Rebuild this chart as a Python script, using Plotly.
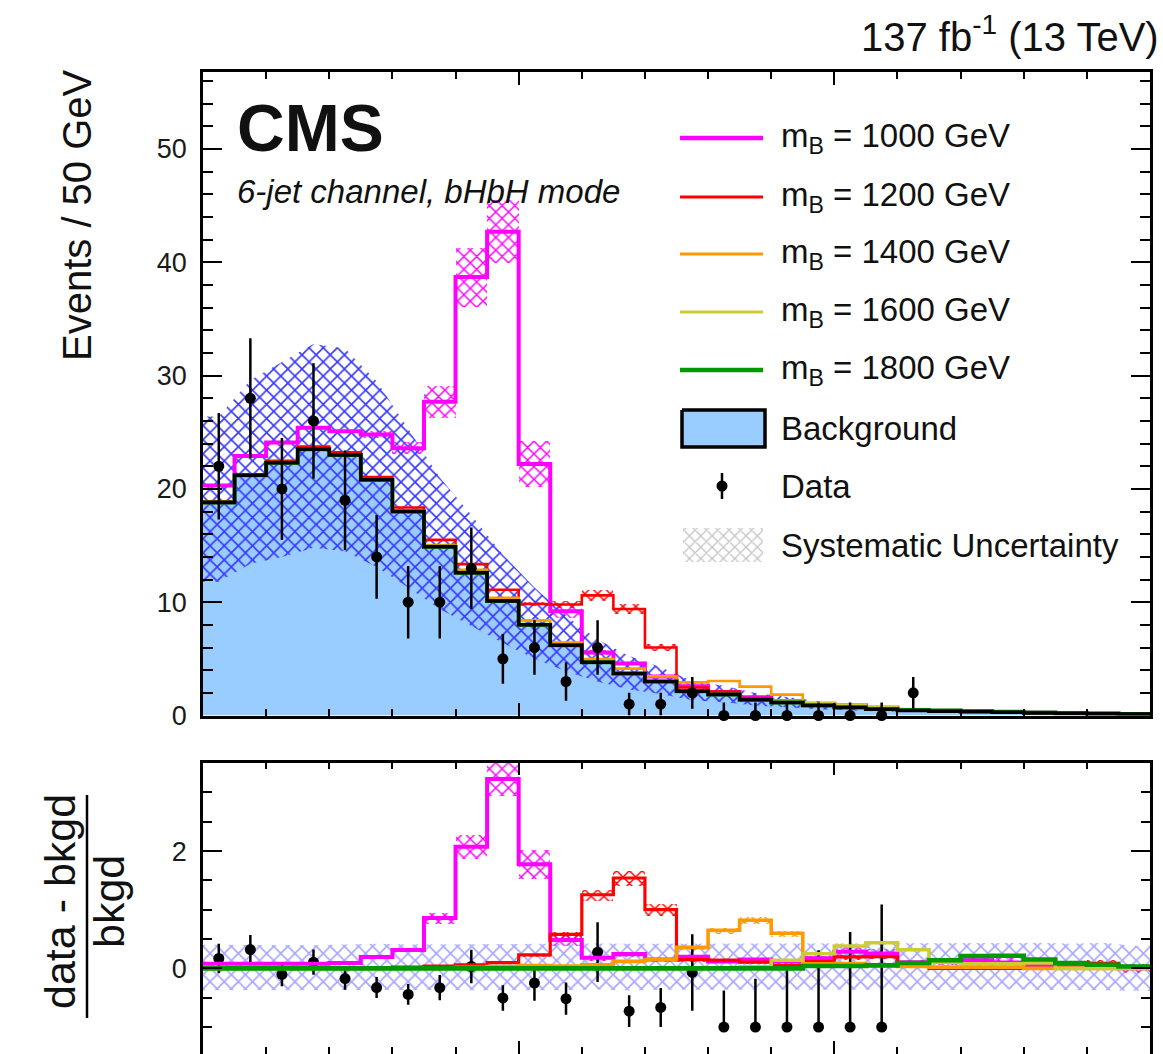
import plotly.graph_objects as go

# ---------------- data ----------------
bin_edges = list(range(500, 2001, 50))          # GeV, 30 bins of 50 GeV
bin_centers = [e + 25 for e in bin_edges[:-1]]

bkg = [18.8, 21.2, 22.3, 23.5, 23.0, 20.8, 18.0, 14.9, 12.6, 10.1,
       8.0, 6.2, 4.7, 3.7, 3.0, 2.15, 1.85, 1.4, 1.15, 0.88,
       0.71, 0.55, 0.44, 0.38, 0.33, 0.28, 0.23, 0.19, 0.16, 0.13]
bkg_hi = [26.4, 29.6, 31.2, 32.8, 32.4, 29.5, 25.3, 21.0, 17.7, 14.2,
          11.3, 8.8, 6.7, 5.25, 4.26, 3.05, 2.63, 1.99, 1.63, 1.25,
          1.01, 0.78, 0.63, 0.54, 0.47, 0.40, 0.33, 0.27, 0.23, 0.18]
bkg_lo = [11.8, 13.4, 14.0, 14.8, 14.5, 13.1, 11.3, 9.4, 7.9, 6.4,
          5.0, 3.9, 3.0, 2.3, 1.9, 1.35, 1.17, 0.88, 0.72, 0.55,
          0.45, 0.35, 0.28, 0.24, 0.21, 0.18, 0.145, 0.12, 0.10, 0.08]

data = [22, 28, 20, 26, 19, 14, 10, 10, 13, 5,
        6, 3, 6, 1, 1, 2, 0, 0, 0, 0,
        0, 0, 2, None, None, None, None, None, None, None]
data_err_hi = [4.7, 5.3, 4.5, 5.1, 4.4, 3.7, 3.2, 3.2, 3.6, 2.2,
               2.4, 1.7, 2.4, 1.0, 1.0, 1.4, 1.15, 1.15, 1.15, 1.15,
               1.15, 1.15, 1.4, None, None, None, None, None, None, None]
data_err_lo = [4.7, 5.3, 4.5, 5.1, 4.4, 3.7, 3.2, 3.2, 3.6, 2.2,
               2.4, 1.7, 2.4, 1.0, 1.0, 1.4, 0, 0, 0, 0,
               0, 0, 1.4, None, None, None, None, None, None, None]

sig_1000 = [1.5, 1.7, 1.8, 1.9, 2.1, 4.0, 5.6, 12.8, 26.1, 32.6,
            14.2, 3.0, 0.85, 0.9, 0.45, 0.43, 0.22, 0.21, 0.14, 0.15,
            0.2, 0.14, 0.045, 0.045, 0.046, 0.028, 0.012, 0.01, 0.006, 0.0]
unc_1000 = [0.1, 0.1, 0.1, 0.1, 0.1, 0.3, 0.5, 1.4, 2.6, 2.8,
            2.0, 0.6, 0.2, 0.15, 0.1, 0.08, 0.05, 0.05, 0.04, 0.04,
            0.06, 0.05, 0.02, 0.02, 0.03, 0.03, 0.01, 0.01, 0.01, 0.01]
sig_1200 = [0.1, 0.1, 0.18, 0.24, 0.23, 0.25, 0.36, 0.6, 0.76, 1.0,
            1.84, 3.6, 5.9, 5.7, 3.0, 0.32, 0.26, 0.15, 0.06, 0.1,
            0.14, 0.11, 0.014, 0, 0, 0, 0, 0, 0.014, 0]
unc_1200 = [0, 0, 0, 0, 0, 0, 0, 0.05, 0.08, 0.1,
            0.2, 0.35, 0.45, 0.45, 0.3, 0.05, 0.05, 0.03, 0.02, 0.02,
            0.03, 0.02, 0, 0, 0, 0, 0, 0, 0.01, 0]
sig_1400 = [0, 0, 0, 0, 0, 0, 0.09, 0.15, 0.25, 0.3,
            0.4, 0.25, 0.28, 0.44, 0.45, 0.77, 1.2, 1.15, 0.69, 0.07,
            0.057, 0.028, 0.014, 0.008, 0.007, 0.006, 0, 0, 0, 0]
unc_1400 = [0, 0, 0, 0, 0, 0, 0, 0, 0, 0,
            0, 0, 0, 0.03, 0.04, 0.07, 0.09, 0.09, 0.06, 0,
            0, 0, 0, 0, 0, 0, 0, 0, 0, 0]
sig_1600 = [0, 0, 0, 0, 0, 0, 0, 0, 0, 0,
            0, 0, 0, 0, 0, 0, 0.02, 0.04, 0.16, 0.22,
            0.27, 0.24, 0.14, 0.038, 0.026, 0.022, 0.021, 0, 0, 0]
sig_1800 = [0, 0, 0, 0, 0, 0, 0, 0, 0, 0,
            0, 0, 0, 0, 0, 0, 0, 0, 0, 0.035,
            0.028, 0.028, 0.04, 0.053, 0.07, 0.06, 0.035, 0.017, 0.01, 0.004]

signals = [
    ("m<sub>B</sub> = 1000 GeV", sig_1000, unc_1000, "#ff00ff", 4.0, 4.0),
    ("m<sub>B</sub> = 1200 GeV", sig_1200, unc_1200, "#ff0000", 2.6, 3.2),
    ("m<sub>B</sub> = 1400 GeV", sig_1400, unc_1400, "#ff9900", 2.6, 3.6),
    ("m<sub>B</sub> = 1600 GeV", sig_1600, None, "#cccc33", 2.4, 3.6),
    ("m<sub>B</sub> = 1800 GeV", sig_1800, None, "#009900", 4.0, 4.6),
]

RATIO_MIN, RATIO_MAX = -1.46, 3.51
FONT = "Liberation Sans, Arial, Helvetica, sans-serif"
LIGHTBLUE = "#99ccff"

# ---------------- helpers ----------------
def step_y(vals):
    return list(vals) + [vals[-1]]

def band_xy(hi, lo):
    xs = [bin_edges[0]] + bin_centers + [bin_edges[-1]]
    up = [hi[0]] + list(hi) + [hi[-1]]
    dn = [lo[0]] + list(lo) + [lo[-1]]
    return xs + xs[::-1], up + dn[::-1]

fig = go.Figure()

# ---------------- top panel ----------------
fig.add_trace(go.Scatter(x=bin_edges, y=step_y(bkg), mode="lines",
                         line=dict(width=0, shape="hv"), fill="tozeroy",
                         fillcolor=LIGHTBLUE, xaxis="x", yaxis="y", hoverinfo="skip"))
bx, by = band_xy(bkg_hi, bkg_lo)
fig.add_trace(go.Scatter(x=bx, y=by, mode="lines", line=dict(width=0),
                         fill="toself", fillcolor="rgba(0,0,0,0)",
                         fillpattern=dict(shape="x", fgcolor="rgb(55,55,255)",
                                          bgcolor="rgba(0,0,0,0)", size=10, solidity=0.3),
                         xaxis="x", yaxis="y", hoverinfo="skip"))

for name, sig, unc, col, lw, lw2 in signals:
    tot = [b + s for b, s in zip(bkg, sig)]
    if unc is not None:
        fig.add_trace(go.Bar(x=bin_centers, y=[2 * u for u in unc],
                             base=[t - u for t, u in zip(tot, unc)], width=50,
                             marker=dict(color="rgba(0,0,0,0)", line=dict(width=0),
                                         pattern=dict(shape="x", fgcolor=col,
                                                      bgcolor="rgba(0,0,0,0)",
                                                      size=9, solidity=0.3)),
                             xaxis="x", yaxis="y", hoverinfo="skip"))
for name, sig, unc, col, lw, lw2 in signals:
    tot = [b + s for b, s in zip(bkg, sig)]
    fig.add_trace(go.Scatter(x=bin_edges, y=step_y(tot), mode="lines",
                             line=dict(color=col, width=lw, shape="hv"),
                             xaxis="x", yaxis="y", hoverinfo="skip"))

fig.add_trace(go.Scatter(x=bin_edges, y=step_y(bkg), mode="lines",
                         line=dict(color="black", width=3.5, shape="hv"),
                         xaxis="x", yaxis="y", hoverinfo="skip"))

fig.add_trace(go.Scatter(x=bin_centers, y=data, mode="markers",
                         marker=dict(color="black", size=11),
                         error_y=dict(type="data", symmetric=False, array=data_err_hi,
                                      arrayminus=data_err_lo, color="black",
                                      thickness=2.5, width=0),
                         cliponaxis=False, xaxis="x", yaxis="y", hoverinfo="skip"))

# ---------------- ratio panel ----------------
r_hi = [(h - b) / b for h, b in zip(bkg_hi, bkg)]
r_lo = [(l - b) / b for l, b in zip(bkg_lo, bkg)]
rx, ry = band_xy(r_hi, r_lo)
fig.add_trace(go.Scatter(x=rx, y=ry, mode="lines", line=dict(width=0),
                         fill="toself", fillcolor="rgba(0,0,0,0)",
                         fillpattern=dict(shape="x", fgcolor="rgba(110,110,255,0.6)",
                                          bgcolor="rgba(0,0,0,0)", size=10, solidity=0.32),
                         xaxis="x2", yaxis="y2", hoverinfo="skip"))

rd, rdu, rdl = [], [], []
for d, eu, el, b in zip(data, data_err_hi, data_err_lo, bkg):
    if d is None or (d - b) / b > RATIO_MAX:
        rd.append(None); rdu.append(None); rdl.append(None)
    else:
        rd.append((d - b) / b); rdu.append(eu / b); rdl.append(el / b)
fig.add_trace(go.Scatter(x=bin_centers, y=rd, mode="markers",
                         marker=dict(color="black", size=11),
                         error_y=dict(type="data", symmetric=False, array=rdu,
                                      arrayminus=rdl, color="black", thickness=2.5, width=0),
                         xaxis="x2", yaxis="y2", hoverinfo="skip"))

for name, sig, unc, col, lw, lw2 in signals:
    if unc is None:
        continue
    rr = [s / b for s, b in zip(sig, bkg)]
    ru = [u / b for u, b in zip(unc, bkg)]
    fig.add_trace(go.Bar(x=bin_centers, y=[2 * u for u in ru],
                         base=[r - u for r, u in zip(rr, ru)], width=50,
                         marker=dict(color="rgba(0,0,0,0)", line=dict(width=0),
                                     pattern=dict(shape="x", fgcolor=col,
                                                  bgcolor="rgba(0,0,0,0)",
                                                  size=9, solidity=0.3)),
                         xaxis="x2", yaxis="y2", hoverinfo="skip"))
for name, sig, unc, col, lw, lw2 in signals:
    rr = [s / b for s, b in zip(sig, bkg)]
    fig.add_trace(go.Scatter(x=bin_edges, y=step_y(rr), mode="lines",
                             line=dict(color=col, width=lw2, shape="hv"),
                             xaxis="x2", yaxis="y2", hoverinfo="skip"))

# ---------------- hand-made legend (pixel-coordinate overlay axes) ----------------
leg_rows = [138, 197, 254, 312, 370]
for (name, sig, unc, col, lw, lw2), yy in zip(signals, leg_rows):
    fig.add_trace(go.Scatter(x=[680, 763], y=[yy, yy], mode="lines",
                             line=dict(color=col, width=lw + 0.6),
                             xaxis="x3", yaxis="y3", hoverinfo="skip"))
fig.add_trace(go.Scatter(x=[682, 765, 765, 682, 682], y=[410, 410, 447, 447, 410],
                         mode="lines", fill="toself", fillcolor=LIGHTBLUE,
                         line=dict(color="black", width=3.5),
                         xaxis="x3", yaxis="y3", hoverinfo="skip"))
fig.add_trace(go.Scatter(x=[722], y=[486], mode="markers",
                         marker=dict(color="black", size=11),
                         error_y=dict(type="data", array=[13], color="black",
                                      thickness=2.5, width=0),
                         xaxis="x3", yaxis="y3", hoverinfo="skip"))
fig.add_trace(go.Scatter(x=[683, 763, 763, 683, 683], y=[528, 528, 562, 562, 528],
                         mode="lines", line=dict(width=0), fill="toself",
                         fillcolor="rgba(0,0,0,0)",
                         fillpattern=dict(shape="x", fgcolor="#c4c4c4",
                                          bgcolor="rgba(0,0,0,0)", size=8, solidity=0.3),
                         xaxis="x3", yaxis="y3", hoverinfo="skip"))

# ---------------- layout ----------------
W, H = 1163, 1054
L, R, T, B = 203, 13, 72, 0
PW, PH = W - L - R, H - T - B

def px(x):
    return (x - L) / PW

def py(y):
    return (H - B - y) / PH

top_dom = [py(715.5), 1.0]
bot_dom = [0.0, py(762.5)]

tickfont = dict(family=FONT, size=27, color="#1a1a1a")
common_x = dict(range=[bin_edges[0], bin_edges[-1]], showticklabels=False,
                ticks="inside", ticklen=13, tickwidth=2, tickcolor="black",
                tick0=0, dtick=500, automargin=False,
                minor=dict(ticks="inside", dtick=100, ticklen=7, tickwidth=2, tickcolor="black"),
                showline=True, linecolor="black", linewidth=2.5, mirror="allticks",
                showgrid=False, zeroline=False)
common_y = dict(ticks="inside", ticklen=19, tickwidth=2, tickcolor="black", automargin=False,
                showline=True, linecolor="black", linewidth=2.5, mirror="allticks",
                showgrid=False, zeroline=False, tickfont=tickfont, ticklabelstandoff=8)

annotations = []
def text(x, y, s, size, xanchor="left", angle=0, yanchor="middle"):
    annotations.append(dict(x=px(x), y=py(y), xref="paper", yref="paper", text=s,
                            showarrow=False, xanchor=xanchor, yanchor=yanchor,
                            textangle=angle,
                            font=dict(family=FONT, size=size, color="#111111")))

text(235, 128, "<b>CMS</b>", 66)
text(235, 191, "<i>6-jet channel, bHbH mode</i>", 33)
text(1161, 34, "137 fb<sup>-1</sup> (13 TeV)", 40, xanchor="right")
leg_labels = [s[0] for s in signals] + ["Background", "Data", "Systematic Uncertainty"]
for lab, yy in zip(leg_labels, leg_rows + [428, 486, 545]):
    text(779, yy, lab, 33)
text(77, 215, "Events / 50 GeV", 40, xanchor="center", angle=-90)
text(60, 902, "data - bkgd", 43, xanchor="center", angle=-90)
text(109, 902, "bkgd", 43, xanchor="center", angle=-90)

fig.update_layout(
    template="none",
    width=W, height=H, margin=dict(l=L, r=R, t=T, b=B, pad=0, autoexpand=False),
    paper_bgcolor="white", plot_bgcolor="rgba(0,0,0,0)",
    showlegend=False, barmode="overlay", bargap=0,
    xaxis=dict(domain=[0, 1], anchor="y", **common_x),
    yaxis=dict(domain=top_dom, anchor="x", range=[0, 56.8], dtick=10, tick0=0,
               minor=dict(ticks="inside", dtick=2, ticklen=10, tickwidth=2, tickcolor="black"),
               **common_y),
    xaxis2=dict(domain=[0, 1], anchor="y2", **common_x),
    yaxis2=dict(domain=bot_dom, anchor="x2", range=[RATIO_MIN, RATIO_MAX], dtick=2, tick0=0,
                minor=dict(ticks="inside", dtick=0.5, ticklen=9, tickwidth=2, tickcolor="black"),
                **common_y),
    xaxis3=dict(domain=[0, 1], anchor="y3", range=[L, W - R], visible=False,
                fixedrange=True, automargin=False),
    yaxis3=dict(domain=[0, 1], anchor="x3", range=[H - B, T], visible=False,
                fixedrange=True, automargin=False),
    annotations=annotations,
    shapes=[dict(type="line", xref="paper", yref="paper", x0=px(87), x1=px(87),
                 y0=py(795), y1=py(1018), line=dict(color="black", width=2.5))],
)

fig.write_html("out.html")
